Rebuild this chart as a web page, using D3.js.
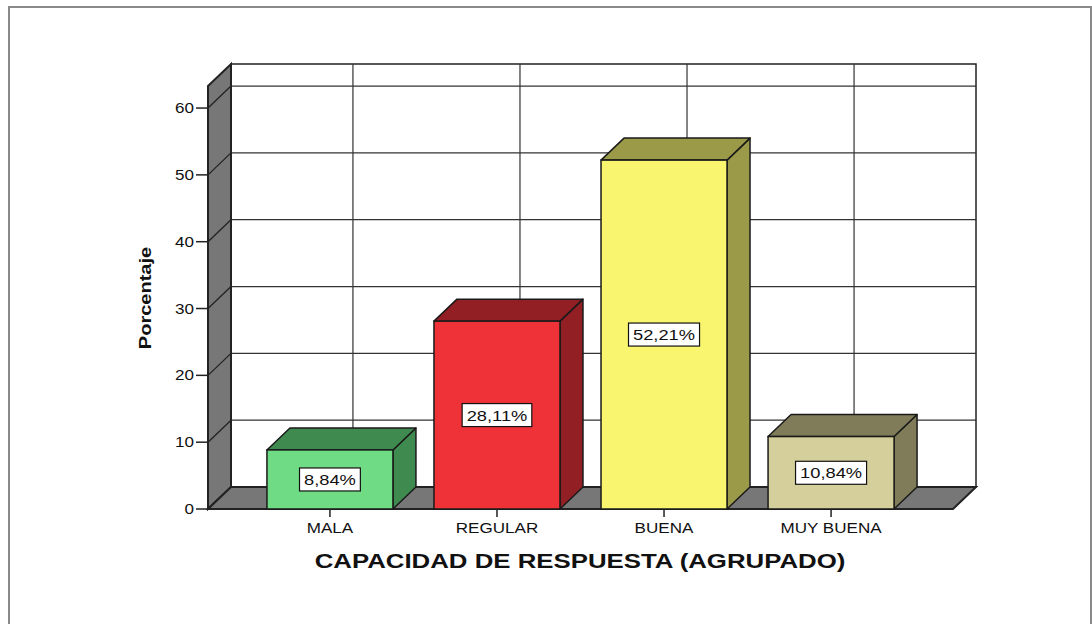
<!DOCTYPE html>
<html>
<head>
<meta charset="utf-8">
<script src="https://cdn.jsdelivr.net/npm/d3@7"></script>
<style>
  body { margin: 0; background: #fff; }
  text { font-family: Arial, "Liberation Sans", sans-serif; fill: #111; }
</style>
</head>
<body>
<div class="chart"></div>
<script>
// data
var categories = ["MALA", "REGULAR", "BUENA", "MUY BUENA"];
var values = [8.84, 28.11, 52.21, 10.84];
var valueLabels = ["8,84%", "28,11%", "52,21%", "10,84%"];
var yTicks = [0, 10, 20, 30, 40, 50, 60];
var frontColors = ["#6fdc85", "#ef3238", "#f9f56e", "#d5d09b"];
var darkColors = ["#3f8a4f", "#921f24", "#9b9a48", "#807c5a"];

var W = 1092, H = 624;
var depthX = 23, depthY = -22;   // 3d offset of the back plane
var sx = 1.22;                   // picture is stretched horizontally

var svg = d3.select(".chart").append("svg")
    .attr("width", W)
    .attr("height", H);

// outer frame
svg.append("rect")
    .attr("x", 9).attr("y", 7)
    .attr("width", 1082).attr("height", 700)
    .attr("fill", "none")
    .attr("stroke", "#8a8a8a")
    .attr("stroke-width", 2);

var y = d3.scaleLinear()
    .domain([0, 63.3])
    .range([509, 86]);

var x = d3.scalePoint()
    .domain(categories)
    .range([208, 953])
    .padding(0.73);

var xL = x.range()[0], xR = x.range()[1];
var y0 = y(0), yTop = y(y.domain()[1]);
var barW = 126;

function pts(a) { return a.map(function(p){ return p.join(","); }).join(" "); }

// back wall
svg.append("rect")
    .attr("x", xL + depthX)
    .attr("y", yTop + depthY)
    .attr("width", xR - xL)
    .attr("height", y0 - yTop)
    .attr("fill", "#fff")
    .attr("stroke", "#222")
    .attr("stroke-width", 1.5);

// horizontal gridlines on back wall
svg.selectAll(".hgrid")
    .data(yTicks.filter(function(d){ return d > 0; }))
    .enter().append("line")
    .attr("class", "hgrid")
    .attr("x1", xL + depthX)
    .attr("x2", xR + depthX)
    .attr("y1", function(d){ return y(d) + depthY; })
    .attr("y2", function(d){ return y(d) + depthY; })
    .attr("stroke", "#333")
    .attr("stroke-width", 1.2);

// vertical gridlines on back wall
svg.selectAll(".vgrid")
    .data(categories)
    .enter().append("line")
    .attr("class", "vgrid")
    .attr("x1", function(d){ return x(d) + depthX; })
    .attr("x2", function(d){ return x(d) + depthX; })
    .attr("y1", yTop + depthY)
    .attr("y2", y0 + depthY)
    .attr("stroke", "#333")
    .attr("stroke-width", 1.2);

// left wall
svg.append("polygon")
    .attr("points", pts([[xL, yTop], [xL + depthX, yTop + depthY], [xL + depthX, y0 + depthY], [xL, y0]]))
    .attr("fill", "#777")
    .attr("stroke", "#222")
    .attr("stroke-width", 2);

svg.selectAll(".wallgrid")
    .data(yTicks)
    .enter().append("line")
    .attr("class", "wallgrid")
    .attr("x1", xL).attr("x2", xL + depthX)
    .attr("y1", function(d){ return y(d); })
    .attr("y2", function(d){ return y(d) + depthY; })
    .attr("stroke", "#222")
    .attr("stroke-width", 1.3);

// floor
svg.append("polygon")
    .attr("points", pts([[xL, y0], [xL + depthX, y0 + depthY], [xR + depthX, y0 + depthY], [xR, y0]]))
    .attr("fill", "#777")
    .attr("stroke", "#222")
    .attr("stroke-width", 2);

// bars
var bars = svg.selectAll(".bar")
    .data(categories)
    .enter().append("g")
    .attr("class", "bar");

bars.append("polygon")
    .attr("points", function(d, i){
        var r = x(d) + barW / 2, t = y(values[i]);
        return pts([[r, t], [r + depthX, t + depthY], [r + depthX, y0 + depthY], [r, y0]]);
    })
    .attr("fill", function(d, i){ return darkColors[i]; })
    .attr("stroke", "#1a1a1a")
    .attr("stroke-width", 1.5)
    .attr("stroke-linejoin", "round");

bars.append("polygon")
    .attr("points", function(d, i){
        var l = x(d) - barW / 2, r = x(d) + barW / 2, t = y(values[i]);
        return pts([[l, t], [l + depthX, t + depthY], [r + depthX, t + depthY], [r, t]]);
    })
    .attr("fill", function(d, i){ return darkColors[i]; })
    .attr("stroke", "#1a1a1a")
    .attr("stroke-width", 1.5)
    .attr("stroke-linejoin", "round");

bars.append("rect")
    .attr("x", function(d){ return x(d) - barW / 2; })
    .attr("y", function(d, i){ return y(values[i]); })
    .attr("width", barW)
    .attr("height", function(d, i){ return y0 - y(values[i]); })
    .attr("fill", function(d, i){ return frontColors[i]; })
    .attr("stroke", "#1a1a1a")
    .attr("stroke-width", 1.5);

// value labels in boxes
bars.each(function(d, i){
    var g = d3.select(this);
    var cy = y(values[i] / 2);
    var box = g.append("rect");
    var t = g.append("text")
        .attr("transform", "translate(" + x(d) + "," + (cy + 5.5) + ") scale(" + sx + ",1)")
        .attr("text-anchor", "middle")
        .style("font-size", "15px")
        .text(valueLabels[i]);
    var w = t.node().getComputedTextLength() * sx + 9;
    box.attr("x", x(d) - w / 2)
        .attr("y", cy - 11.5)
        .attr("width", w)
        .attr("height", 23)
        .attr("fill", "#fff")
        .attr("stroke", "#111")
        .attr("stroke-width", 1.2);
});

// y axis ticks and labels
svg.selectAll(".ytick")
    .data(yTicks)
    .enter().append("line")
    .attr("class", "ytick")
    .attr("x1", xL - 12).attr("x2", xL)
    .attr("y1", function(d){ return y(d); })
    .attr("y2", function(d){ return y(d); })
    .attr("stroke", "#222")
    .attr("stroke-width", 1.5);

svg.selectAll(".ylabel")
    .data(yTicks)
    .enter().append("text")
    .attr("class", "ylabel")
    .attr("transform", function(d){ return "translate(" + (xL - 14) + "," + (y(d) + 5) + ") scale(" + sx + ",1)"; })
    .attr("text-anchor", "end")
    .style("font-size", "14px")
    .text(function(d){ return d; });

// x axis ticks and labels
svg.selectAll(".xtick")
    .data(categories)
    .enter().append("line")
    .attr("class", "xtick")
    .attr("x1", function(d){ return x(d); })
    .attr("x2", function(d){ return x(d); })
    .attr("y1", y0).attr("y2", y0 + 8)
    .attr("stroke", "#222")
    .attr("stroke-width", 1.5);

svg.selectAll(".xlabel")
    .data(categories)
    .enter().append("text")
    .attr("class", "xlabel")
    .attr("transform", function(d){ return "translate(" + x(d) + ",533) scale(" + sx + ",1)"; })
    .attr("text-anchor", "middle")
    .style("font-size", "14px")
    .text(function(d){ return d; });

// axis titles
svg.append("text")
    .attr("transform", "translate(580,568) scale(1.29,1)")
    .attr("text-anchor", "middle")
    .style("font-size", "20px")
    .style("font-weight", "bold")
    .text("CAPACIDAD DE RESPUESTA (AGRUPADO)");

svg.append("text")
    .attr("transform", "translate(151,298) scale(1,1.25) rotate(-90)")
    .attr("text-anchor", "middle")
    .style("font-size", "16px")
    .style("font-weight", "bold")
    .text("Porcentaje");
</script>
</body>
</html>
